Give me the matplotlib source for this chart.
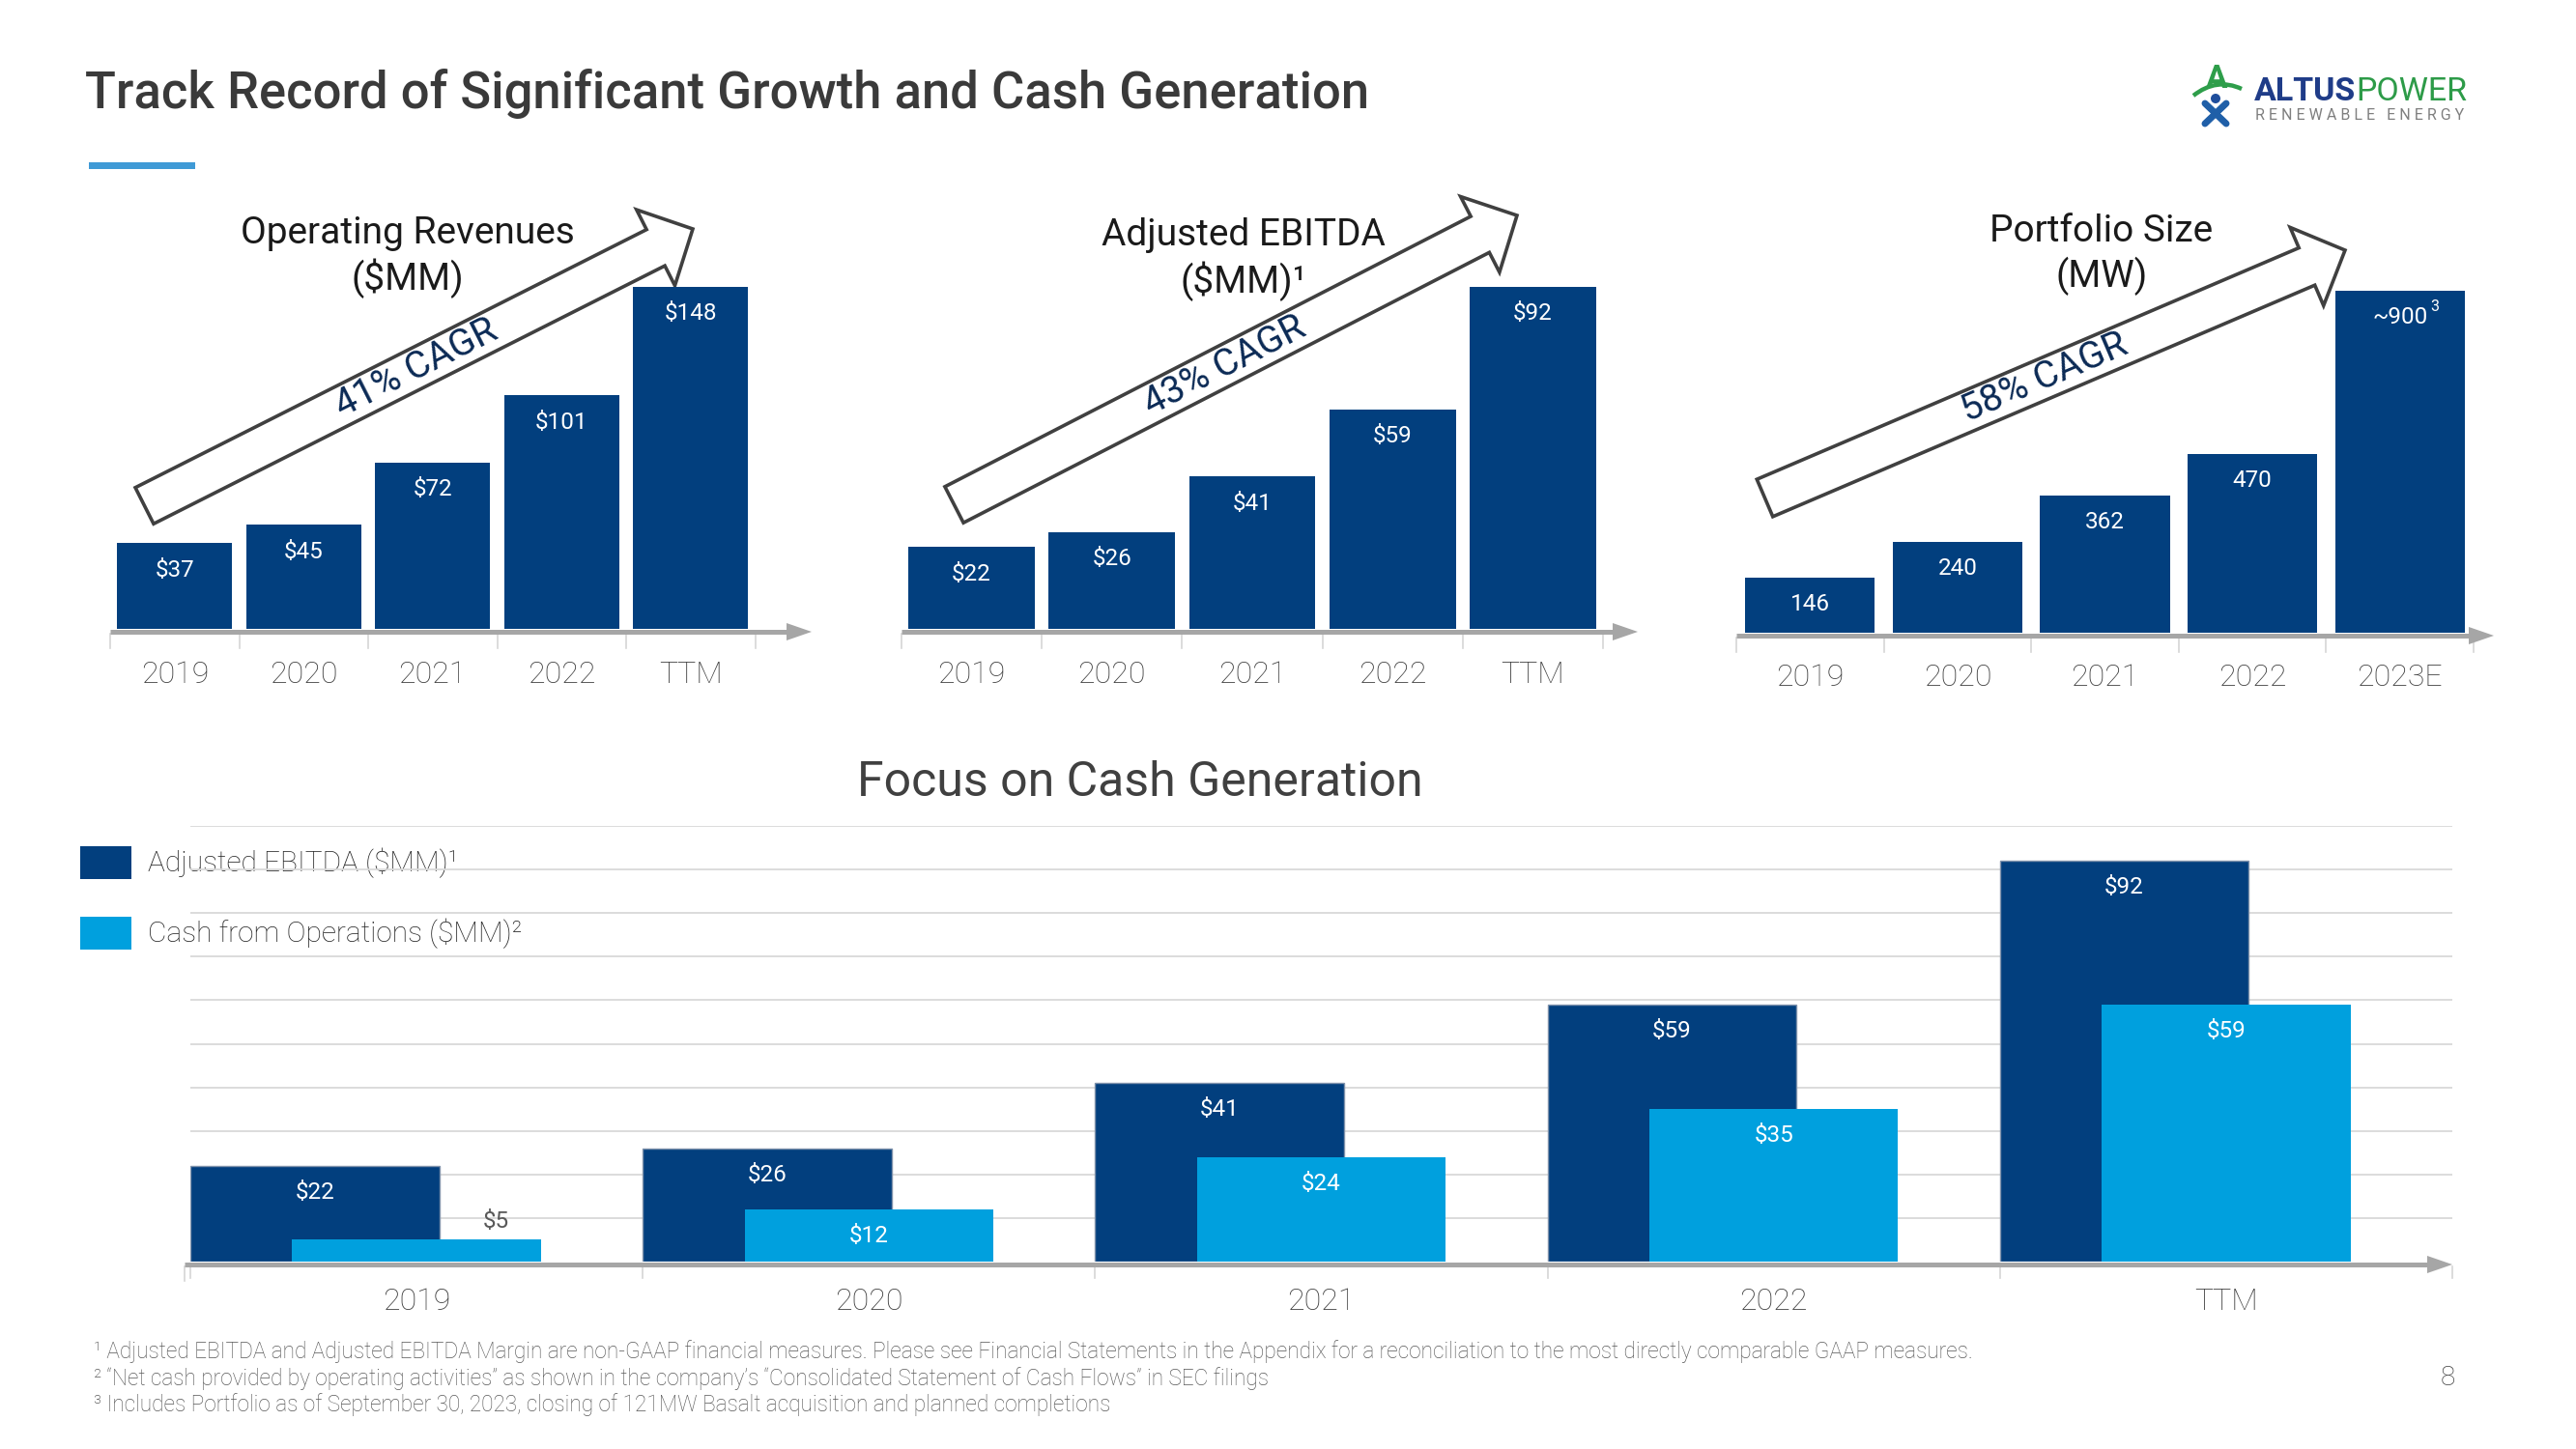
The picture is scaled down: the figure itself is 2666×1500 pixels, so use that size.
import matplotlib
matplotlib.use("Agg")
import matplotlib.pyplot as plt
from matplotlib.patches import Polygon, Rectangle, Circle, PathPatch
from matplotlib.path import Path
import numpy as np

plt.rcParams['font.family'] = ['Roboto', 'DejaVu Sans']

# ---------------- data ----------------
rev_cats = ['2019', '2020', '2021', '2022', 'TTM']
rev_vals = [37, 45, 72, 101, 148]
rev_labels = ['$37', '$45', '$72', '$101', '$148']

ebitda_cats = ['2019', '2020', '2021', '2022', 'TTM']
ebitda_vals = [22, 26, 41, 59, 92]
ebitda_labels = ['$22', '$26', '$41', '$59', '$92']

port_cats = ['2019', '2020', '2021', '2022', '2023E']
port_vals = [146, 240, 362, 470, 900]
port_labels = ['146', '240', '362', '470', '~900']

cash_cats = ['2019', '2020', '2021', '2022', 'TTM']
cash_ebitda = [22, 26, 41, 59, 92]
cash_ops = [5, 12, 24, 35, 59]

cagr_texts = ['41% CAGR', '43% CAGR', '58% CAGR']

# ---------------- style ----------------
NAVY = '#023F7E'
LIGHT = '#00A0DE'
AXIS = '#A6A6A6'
TICK = '#D6D6D6'
GRID = '#D9D9D9'
DARK = '#404040'
LABEL = '#3D3D3D'

W, H = 2666, 1500
fig = plt.figure(figsize=(W / 100, H / 100), dpi=100)
fig.patch.set_facecolor('white')


def rect(l, t, r, b):
    return [l / W, 1 - b / H, (r - l) / W, (b - t) / H]


ov = fig.add_axes([0, 0, 1, 1], zorder=0)
ov.set_xlim(0, W)
ov.set_ylim(H, 0)
ov.axis('off')


def axis_arrow(x0, x1, y, n, pitch, head_l=26, head_h=9, lw=3.6):
    ov.plot([x0, x1 - head_l + 2], [y, y], color=AXIS, lw=lw, solid_capstyle='butt', zorder=1)
    ov.add_patch(Polygon([[x1 - head_l, y - head_h], [x1, y], [x1 - head_l, y + head_h]],
                         closed=True, facecolor=AXIS, edgecolor='none', zorder=1))
    for k in range(n + 1):
        xx = x0 + k * pitch
        ov.plot([xx, xx], [y + 2, y + 17], color=TICK, lw=1.2, zorder=0.5)


def block_arrow(tail, tip, text, text_t=315, shaft_w=42, head_w=88, head_l=43):
    tail = np.array(tail, float)
    tip = np.array(tip, float)
    d = tip - tail
    L = np.hypot(*d)
    u = d / L
    p = np.array([-u[1], u[0]])
    b = tip - u * head_l
    pts = [tail + p * shaft_w / 2, b + p * shaft_w / 2, b + p * head_w / 2, tip,
           b - p * head_w / 2, b - p * shaft_w / 2, tail - p * shaft_w / 2]
    ov.add_patch(Polygon(pts, closed=True, facecolor='white', edgecolor=DARK,
                         lw=2.6, joinstyle='miter', zorder=2))
    ang = np.degrees(np.arctan2(-d[1], d[0]))
    c = tail + u * text_t
    ov.text(c[0], c[1], text, rotation=ang, rotation_mode='anchor', ha='center',
            va='center', fontsize=28, color='#0B2A55', zorder=3)


def top_chart(cats, vals, labels, left, pitch, base, top_px, width, tip_x, lab_y):
    n = len(cats)
    right = left + pitch * n
    ax = fig.add_axes(rect(left, top_px, right, base), zorder=2)
    ax.set_facecolor('none')
    ax.set_xlim(-0.5, n - 0.5)
    ax.set_ylim(0, max(vals))
    ax.axis('off')
    x = np.arange(n)
    ax.bar(x, vals, width=width, color=NAVY, zorder=2)
    for xi, v, lab in zip(x, vals, labels):
        ax.annotate(lab, (xi, v), xytext=(0, -20), textcoords='offset points',
                    ha='center', va='center', color='white', fontsize=17.5,
                    fontweight='normal', zorder=3)
    frac = (base - lab_y) / (base - top_px)
    for xi, c in zip(x, cats):
        ax.text(xi, frac, c, transform=ax.get_xaxis_transform(), ha='center',
                va='center', fontsize=23, color=LABEL, fontweight='light')
    axis_arrow(left, tip_x, base + 3, n, pitch)
    return ax


# ---------------- title & logo ----------------
ov.text(88, 97, 'Track Record of Significant Growth and Cash Generation', fontsize=37.9,
        fontweight='medium', color='#3A3A3A', ha='left', va='center')
ov.add_patch(Rectangle((92, 168), 110, 7, facecolor='#3F9AD6', edgecolor='none'))

# logo icon
ov.text(2294, 82, 'A', fontsize=24, fontweight='bold', color='#2E9E4A', ha='center', va='center')
sw = Path([(2270, 99), (2294, 80), (2320, 92)], [Path.MOVETO, Path.CURVE3, Path.CURVE3])
ov.add_patch(PathPatch(sw, facecolor='none', edgecolor='#2E9E4A', lw=3.2))
ov.add_patch(Circle((2293, 102), 5, facecolor='#1F4E9C', edgecolor='none'))
ov.plot([2282, 2304], [107, 128], color='#1F5FA8', lw=5, solid_capstyle='round')
ov.plot([2304, 2282], [107, 128], color='#1F5FA8', lw=5, solid_capstyle='round')

fig.canvas.draw()
renderer = fig.canvas.get_renderer()
t1 = ov.text(2333, 104, 'ALTUS', fontsize=24.5, fontweight='bold', color='#1F3C88',
             ha='left', va='baseline')
bb = t1.get_window_extent(renderer)
x_end = bb.x1
ov.annotate('POWER', xy=(x_end, H - 104), xycoords='figure pixels', fontsize=24.5,
            color='#2D9B48', ha='left', va='baseline')
ov.text(2334, 120, 'R E N E W A B L E   E N E R G Y', fontsize=11.5, color='#7F7F7F',
        ha='left', va='center')

# ---------------- top charts ----------------
top_chart(rev_cats, rev_vals, rev_labels, 114, 133.5, 651, 297, 0.89, 840, 699)
top_chart(ebitda_cats, ebitda_vals, ebitda_labels, 933, 145.2, 651, 297, 0.90, 1695, 699)
ax3 = top_chart(port_cats, port_vals, port_labels, 1797, 152.6, 655, 301, 0.88, 2581, 702)
ax3.annotate('3', (4, port_vals[4]), xytext=(26, -12), textcoords='offset points',
             ha='center', va='center', color='white', fontsize=11.5, fontweight='normal')

# chart titles
TC = '#1A1A1A'
ov.text(422, 241, 'Operating Revenues', fontsize=28, color=TC, ha='center', va='center')
ov.text(422, 288, '($MM)', fontsize=28, color=TC, ha='center', va='center')
ov.text(1287, 243, 'Adjusted EBITDA', fontsize=28, color=TC, ha='center', va='center')
ov.text(1287, 291, '($MM)\u00b9', fontsize=28, color=TC, ha='center', va='center')
ov.text(2175, 240, 'Portfolio Size', fontsize=28, color=TC, ha='center', va='center')
ov.text(2175, 286, '(MW)', fontsize=28, color=TC, ha='center', va='center')

# CAGR arrows
block_arrow((149.5, 523.5), (717, 237), cagr_texts[0])
block_arrow((987.5, 522.5), (1570, 223), cagr_texts[1])
block_arrow((1826.5, 515.5), (2427, 259), cagr_texts[2])

# ---------------- bottom chart ----------------
ov.text(1180, 810, 'Focus on Cash Generation', fontsize=36, color=DARK, ha='center', va='center')

L0, R0, T0, B0 = 197, 2538, 855, 1306
axb = fig.add_axes(rect(L0, T0, R0, B0), zorder=2)
axb.set_facecolor('none')
n = len(cash_cats)
axb.set_xlim(-0.5, n - 0.5)
axb.set_ylim(0, 100)
for s in axb.spines.values():
    s.set_visible(False)
axb.set_yticks(np.arange(10, 101, 10))
axb.set_xticks([])
axb.tick_params(left=False, labelleft=False)
axb.grid(axis='y', color=GRID, lw=1.3)
axb.set_axisbelow(True)
x = np.arange(n)
axb.bar(x - 0.225, cash_ebitda, width=0.55, color=NAVY, edgecolor='#8093AC',
        linewidth=1.0, zorder=3)
axb.bar(x, cash_ops, width=0.55, color=LIGHT, zorder=4)
for xi, v in zip(x, cash_ebitda):
    axb.annotate(f'${v}', (xi - 0.225, v), xytext=(0, -20), textcoords='offset points',
                 ha='center', va='center', color='white', fontsize=17.5,
                 fontweight='normal', zorder=5)
for xi, v in zip(x, cash_ops):
    if v < 8:
        axb.annotate(f'${v}', (xi + 0.175, v), xytext=(0, 14), textcoords='offset points',
                     ha='center', va='center', color='#595959', fontsize=17.5,
                     fontweight='normal', zorder=5)
    else:
        axb.annotate(f'${v}', (xi, v), xytext=(0, -20), textcoords='offset points',
                     ha='center', va='center', color='white', fontsize=17.5,
                     fontweight='normal', zorder=5)
fracb = (B0 - 1348) / (B0 - T0)
for xi, c in zip(x, cash_cats):
    axb.text(xi, fracb, c, transform=axb.get_xaxis_transform(), ha='center', va='center',
             fontsize=23, color=LABEL, fontweight='light')
axis_arrow(L0 - 6, R0, B0 + 3, 0, 0)
pitch_b = (R0 - L0) / n
for k in range(n + 1):
    xx = L0 + k * pitch_b
    ov.plot([xx, xx], [B0 + 5, B0 + 17], color=TICK, lw=1.2, zorder=0.5)

# legend
ov.add_patch(Rectangle((83, 876), 53, 34, facecolor=NAVY, edgecolor='none'))
ov.add_patch(Rectangle((83, 949), 53, 34, facecolor=LIGHT, edgecolor='none'))
ov.text(153, 893, 'Adjusted EBITDA ($MM)\u00b9', fontsize=21.5, color='#262626',
        fontweight='light', ha='left', va='center')
ov.text(153, 966, 'Cash from Operations ($MM)\u00b2', fontsize=21.5, color='#262626',
        fontweight='light', ha='left', va='center')

# footnotes
foot = [
    '\u00b9 Adjusted EBITDA and Adjusted EBITDA Margin are non-GAAP financial measures. Please see Financial Statements in the Appendix for a reconciliation to the most directly comparable GAAP measures.',
    '\u00b2 \u201cNet cash provided by operating activities\u201d as shown in the company\u2019s \u201cConsolidated Statement of Cash Flows\u201d in SEC filings',
    '\u00b3 Includes Portfolio as of September 30, 2023, closing of 121MW Basalt acquisition and planned completions',
]
for yy, t in zip([1399, 1427, 1454], foot):
    ov.text(97, yy, t, fontsize=16.3, color='#595959', fontweight='light', ha='left', va='center')
ov.text(2533, 1426, '8', fontsize=20, color=DARK, fontweight='light', ha='center', va='center')

fig.savefig('out.png', dpi=100, facecolor='white')
